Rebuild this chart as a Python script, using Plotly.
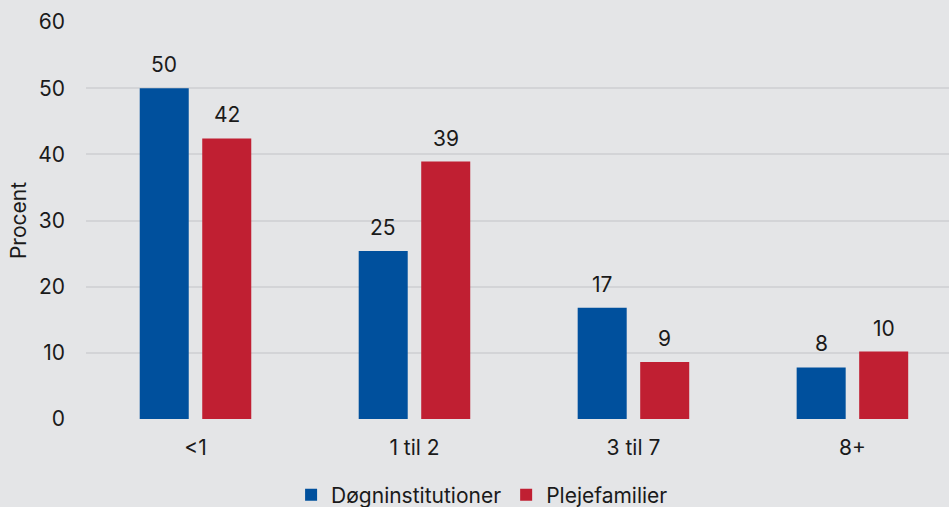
import plotly.graph_objects as go

categories = ["<1", "1 til 2", "3 til 7", "8+"]
series_names = ["Døgninstitutioner", "Plejefamilier"]
doegn = [50.0, 25.4, 16.8, 7.8]
pleje = [42.4, 38.9, 8.6, 10.2]
y_ticks = [0, 10, 20, 30, 40, 50, 60]

colors = ["#00509d", "#c01f32"]
bg = "#e4e5e7"
txt = "#1a1a1a"
font_family = "Inter, Roboto, Arial, sans-serif"
fs = 21

fig = go.Figure()
for name, vals, col in zip(series_names, [doegn, pleje], colors):
    fig.add_trace(go.Bar(
        x=categories, y=vals, name=name,
        marker=dict(color=col, line=dict(width=0)),
        hoverinfo="skip",
    ))

# value labels above bars
for vals, shift in [(doegn, -31.25), (pleje, 31.25)]:
    for c, v in zip(categories, vals):
        fig.add_annotation(
            x=c, y=v, text=str(int(round(v))), showarrow=False,
            xshift=shift, yshift=9, yanchor="bottom",
            font=dict(size=fs, color=txt, family=font_family),
        )

fig.update_layout(
    width=949, height=507,
    paper_bgcolor=bg, plot_bgcolor=bg,
    margin=dict(l=86, r=0, t=22, b=88, autoexpand=False),
    barmode="group", bargap=0.429, bargroupgap=0.216,
    font=dict(family=font_family, size=fs, color=txt),
    showlegend=True,
    legend=dict(orientation="h", xref="container", x=0.508, xanchor="center",
                yref="container", y=(507 - 495) / 507, yanchor="middle",
                font=dict(size=fs, color=txt), itemwidth=30, traceorder="normal",
                bgcolor="rgba(0,0,0,0)"),
    xaxis=dict(
        type="category", range=[-0.5, 3.441],
        showgrid=False, zeroline=False, showline=False,
        ticks="", tickfont=dict(size=fs, color=txt), ticklabelstandoff=14,
    ),
    yaxis=dict(
        range=[0, 60], tickvals=y_ticks,
        showgrid=True, gridcolor="#d3d4d7", gridwidth=2,
        zeroline=False, showline=False, ticks="",
        tickfont=dict(size=fs, color=txt), ticklabelstandoff=20,
        title=dict(text="Procent", font=dict(size=fs, color=txt), standoff=5),
    ),
)

fig.write_html("out.html", config={"displayModeBar": False},
               post_script="document.body.style.margin='0';document.body.style.overflow='hidden';")
